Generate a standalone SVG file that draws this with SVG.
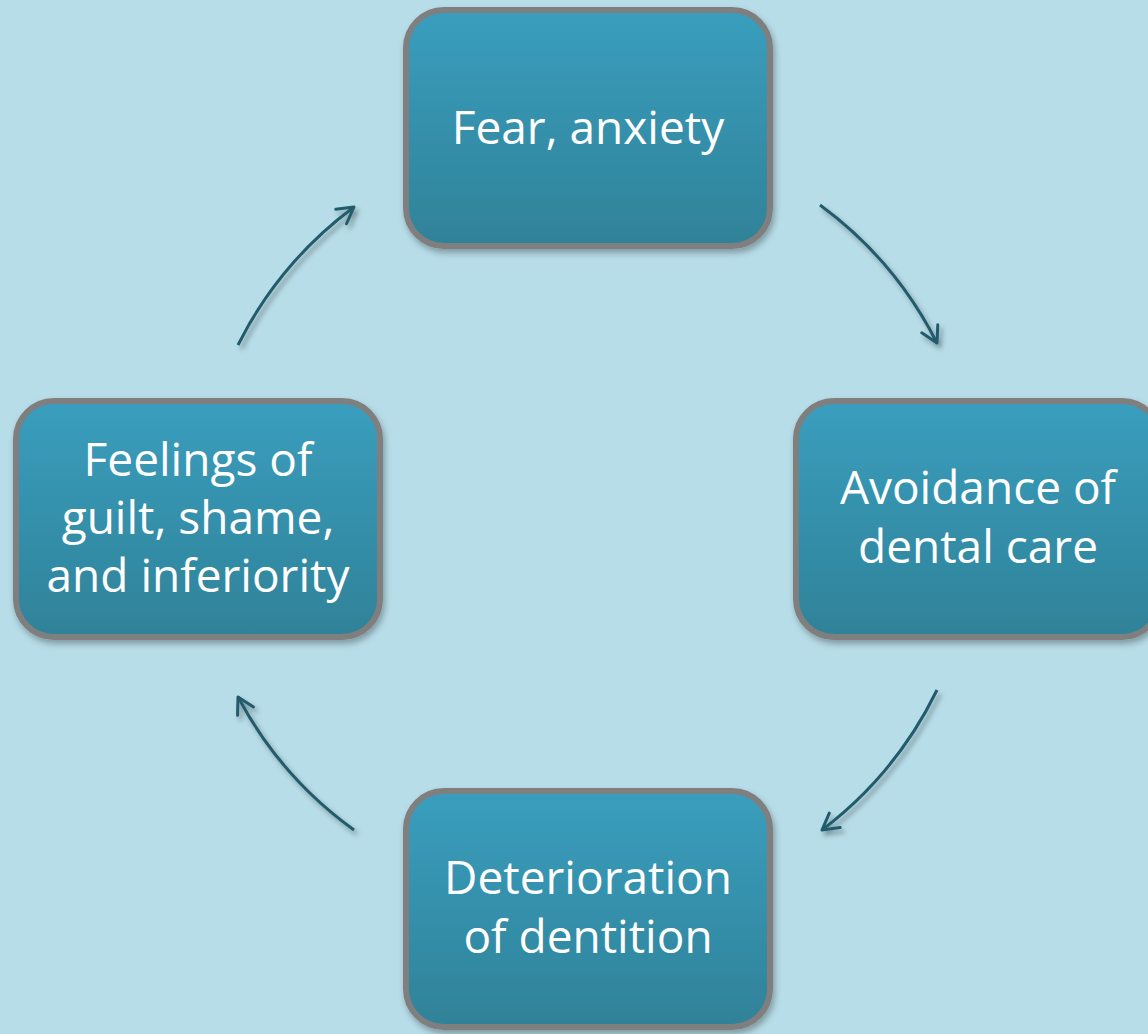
<svg xmlns="http://www.w3.org/2000/svg" width="1148" height="1034" viewBox="0 0 1148 1034">
<style>
.node rect{fill:url(#g);stroke:#7f7f7f;stroke-width:6;filter:url(#ns)}
.node text{font-family:"Open Sans","Liberation Sans",sans-serif;font-size:46px;fill:#ffffff;text-anchor:middle}
.conn path{fill:none;stroke:#235b6c;stroke-width:3;marker-end:url(#ah);filter:url(#as)}
</style>
<defs>
<linearGradient id="g" x1="0" y1="0" x2="0" y2="1">
<stop offset="0" stop-color="#3a9ebe"/>
<stop offset="1" stop-color="#2f8298"/>
</linearGradient>
<filter id="ns" x="-10%" y="-10%" width="125%" height="130%">
<feDropShadow dx="2" dy="4" stdDeviation="3" flood-color="#000" flood-opacity="0.3"/>
</filter>
<filter id="as" x="-20%" y="-20%" width="150%" height="150%">
<feDropShadow dx="3" dy="4" stdDeviation="2.5" flood-color="#000" flood-opacity="0.35"/>
</filter>
<marker id="ah" markerUnits="userSpaceOnUse" viewBox="-20 -12 24 24" markerWidth="24" markerHeight="24" refX="0" refY="0" orient="auto">
<path d="M-16,-9 L0,0 L-16,9" fill="none" stroke="#235b6c" stroke-width="3" stroke-linecap="round" stroke-linejoin="round"/>
</marker>
</defs>
<rect width="1148" height="1034" fill="#b7dde8"/>
<g id="connectors" class="conn">
<path d="M820,205 A389,389 0 0 1 937,343"/>
<path d="M937,690 A389,389 0 0 1 822,830"/>
<path d="M354,830 A389,389 0 0 1 238,697"/>
<path d="M238,345 A389,389 0 0 1 354,207"/>
</g>
<g id="fear" class="node">
<rect x="406" y="10" width="364" height="236" rx="38"/>
<text x="588" y="144">Fear, anxiety</text>
</g>
<g id="avoidance" class="node">
<rect x="796" y="401" width="364" height="236" rx="38"/>
<text x="978" y="504">Avoidance of</text>
<text x="978" y="563">dental care</text>
</g>
<g id="deterioration" class="node">
<rect x="406" y="791" width="364" height="236" rx="38"/>
<text x="588" y="894">Deterioration</text>
<text x="588" y="953">of dentition</text>
</g>
<g id="feelings" class="node">
<rect x="16" y="401" width="364" height="236" rx="38"/>
<text x="198" y="476">Feelings of</text>
<text x="198" y="534">guilt, shame,</text>
<text x="198" y="592">and inferiority</text>
</g>
</svg>
